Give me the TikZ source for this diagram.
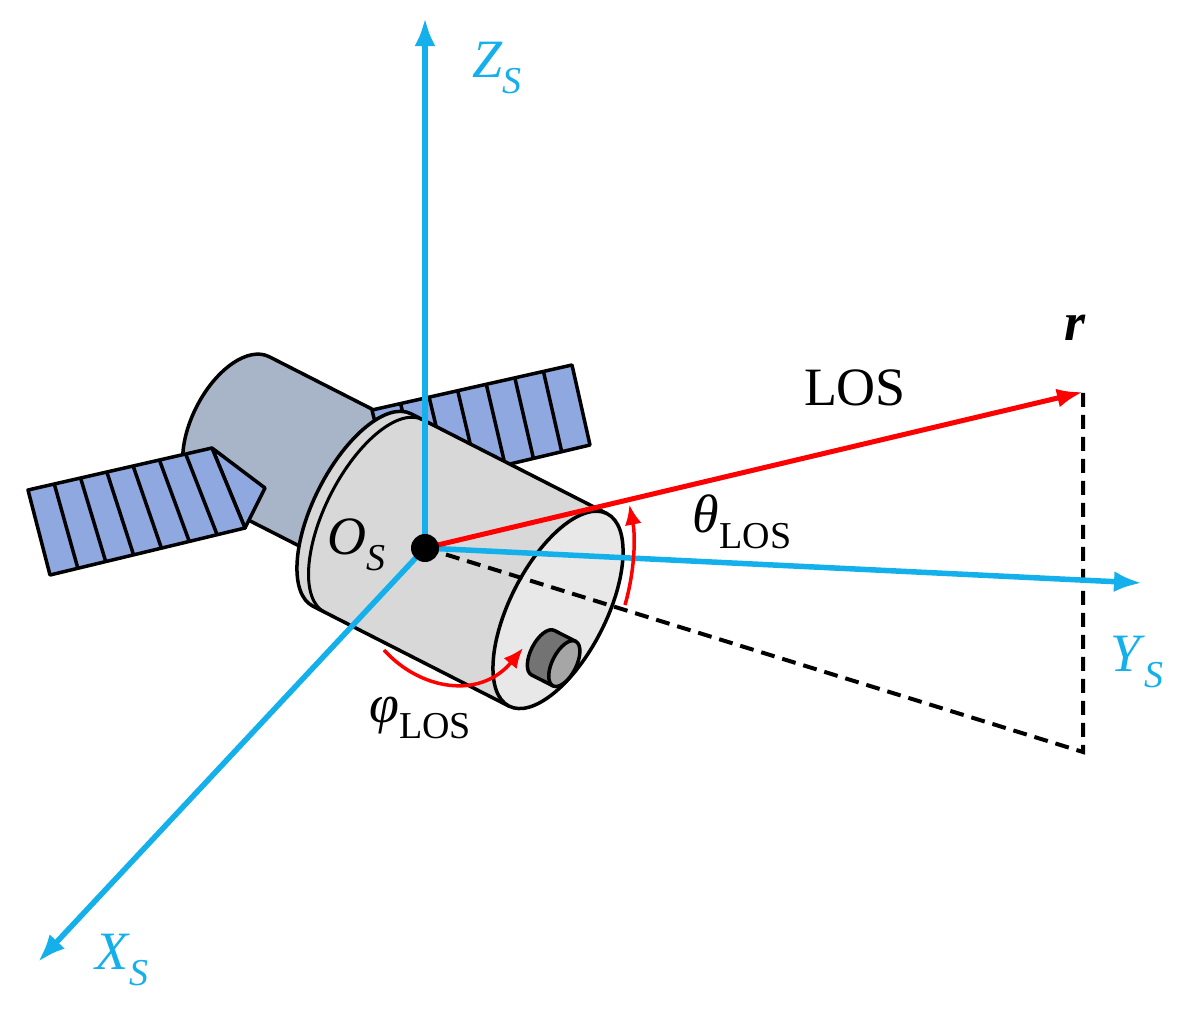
\documentclass[tikz,border=0pt]{standalone}
\usepackage{fontspec}
\setmainfont{Liberation Serif}
\usetikzlibrary{arrows.meta,calc}
\definecolor{ax}{RGB}{20,176,236}
\definecolor{panel}{RGB}{143,168,224}
\definecolor{backc}{RGB}{168,180,200}
\definecolor{bodyc}{RGB}{216,216,216}
\definecolor{facec}{RGB}{232,232,232}
\newcommand{\mysub}[1]{\raisebox{-0.3em}{\fontsize{38}{38}\selectfont #1}}
\tikzset{
  axis/.style={ax,line width=5.5pt,-{Latex[length=28pt,width=21pt]}},
  redarr/.style={red,line width=5pt,-{Latex[length=26pt,width=19pt]}},
  redarc/.style={red,line width=3.5pt,-{Latex[length=20pt,width=17pt]}},
  dashline/.style={black,line width=4pt,dash pattern=on 14pt off 8pt},
  outl/.style={draw=black,line width=3.5pt,line join=round},
  lbl/.style={font=\fontsize{54}{58}\selectfont,inner sep=0pt},
}
\begin{document}
\begin{tikzpicture}[x=1pt,y=-1pt]
\useasboundingbox (0,0) rectangle (1178,1009);
\fill[white] (0,0) rectangle (1178,1009);
% back cylinder
\begin{scope}[shift={(362,505)},rotate=-27]
  \path[outl,fill=backc] (-150,-90) -- (10,-90) -- (10,65) -- (-150,65) arc[start angle=90,end angle=270,x radius=42,y radius=77.5] -- cycle;
\end{scope}
% right panel
\path[outl,fill=panel] (372,410) -- (572,365) -- (590,445) -- (392,492) -- cycle;
\foreach \t in {1,...,6}{
  \draw[line width=3.5pt] ($(372,410)!\t/7!(572,365)$) -- ($(392,492)!\t/7!(590,445)$);
}
% left panel
\path[outl,fill=panel] (212,448) -- (265,488) -- (245,528) -- cycle;
\path[outl,fill=panel] (28,490) -- (212,448) -- (245,528) -- (50,575) -- cycle;
\foreach \t in {1,...,6}{
  \draw[line width=3.5pt] ($(28,490)!\t/7!(212,448)$) -- ($(50,575)!\t/7!(245,528)$);
}
% body
\begin{scope}[shift={(362,510)},rotate=-27]
  \path[outl,fill=bodyc] (0,-108) -- (220,-108) -- (220,108) -- (0,108) arc[start angle=90,end angle=270,x radius=48,y radius=108] -- cycle;
  \draw[line width=3pt] (13,108) arc[start angle=90,end angle=270,x radius=48,y radius=108];
  \path[outl,fill=facec] (220,0) ellipse[x radius=48,y radius=108];
  % camera
  \path[outl,fill=black!55] (226,20) -- (250,20) -- (250,70) -- (226,70) arc[start angle=90,end angle=270,x radius=12,y radius=25] -- cycle;
  \path[outl,fill=black!35] (250,45) ellipse[x radius=12,y radius=25];
\end{scope}
% coordinates
\coordinate (O) at (425,548);
\coordinate (Z) at (425,18);
\coordinate (Y) at (1142,583);
\coordinate (X) at (38,962);
\coordinate (R) at (1083,392);
\coordinate (P) at (1083,752);
% dashed
\draw[dashline] (O) -- (P) -- (R);
% axes
\draw[axis] (O) -- (Z);
\draw[axis] (O) -- (Y);
\draw[axis] (O) -- (X);
\draw[redarr] (O) -- (R);
% angles
\draw[redarc] (625,605) arc[start angle=16,end angle=-11,radius=215];
\draw[redarc] (384,650) .. controls (420,690) and (480,700) .. (523,648);
\fill (O) circle[radius=14];
% labels
\node[lbl,text=ax] at (497,68) {\textit{Z}\mysub{\textit{S}}};
\node[lbl,text=ax] at (1137,662) {\textit{Y}\mysub{\textit{S}}};
\node[lbl,text=ax] at (122,960) {\textit{X}\mysub{\textit{S}}};
\node[lbl] at (356,545) {\textit{O}\mysub{\textit{S}}};
\node[lbl] at (855,388) {LOS};
\node[lbl] at (1075,328) {\textbf{\textit{r}}};
\node[lbl] at (742,522) {\textit{θ}\mysub{LOS}};
\node[lbl] at (420,718) {\textit{φ}\mysub{LOS}};
\end{tikzpicture}
\end{document}
